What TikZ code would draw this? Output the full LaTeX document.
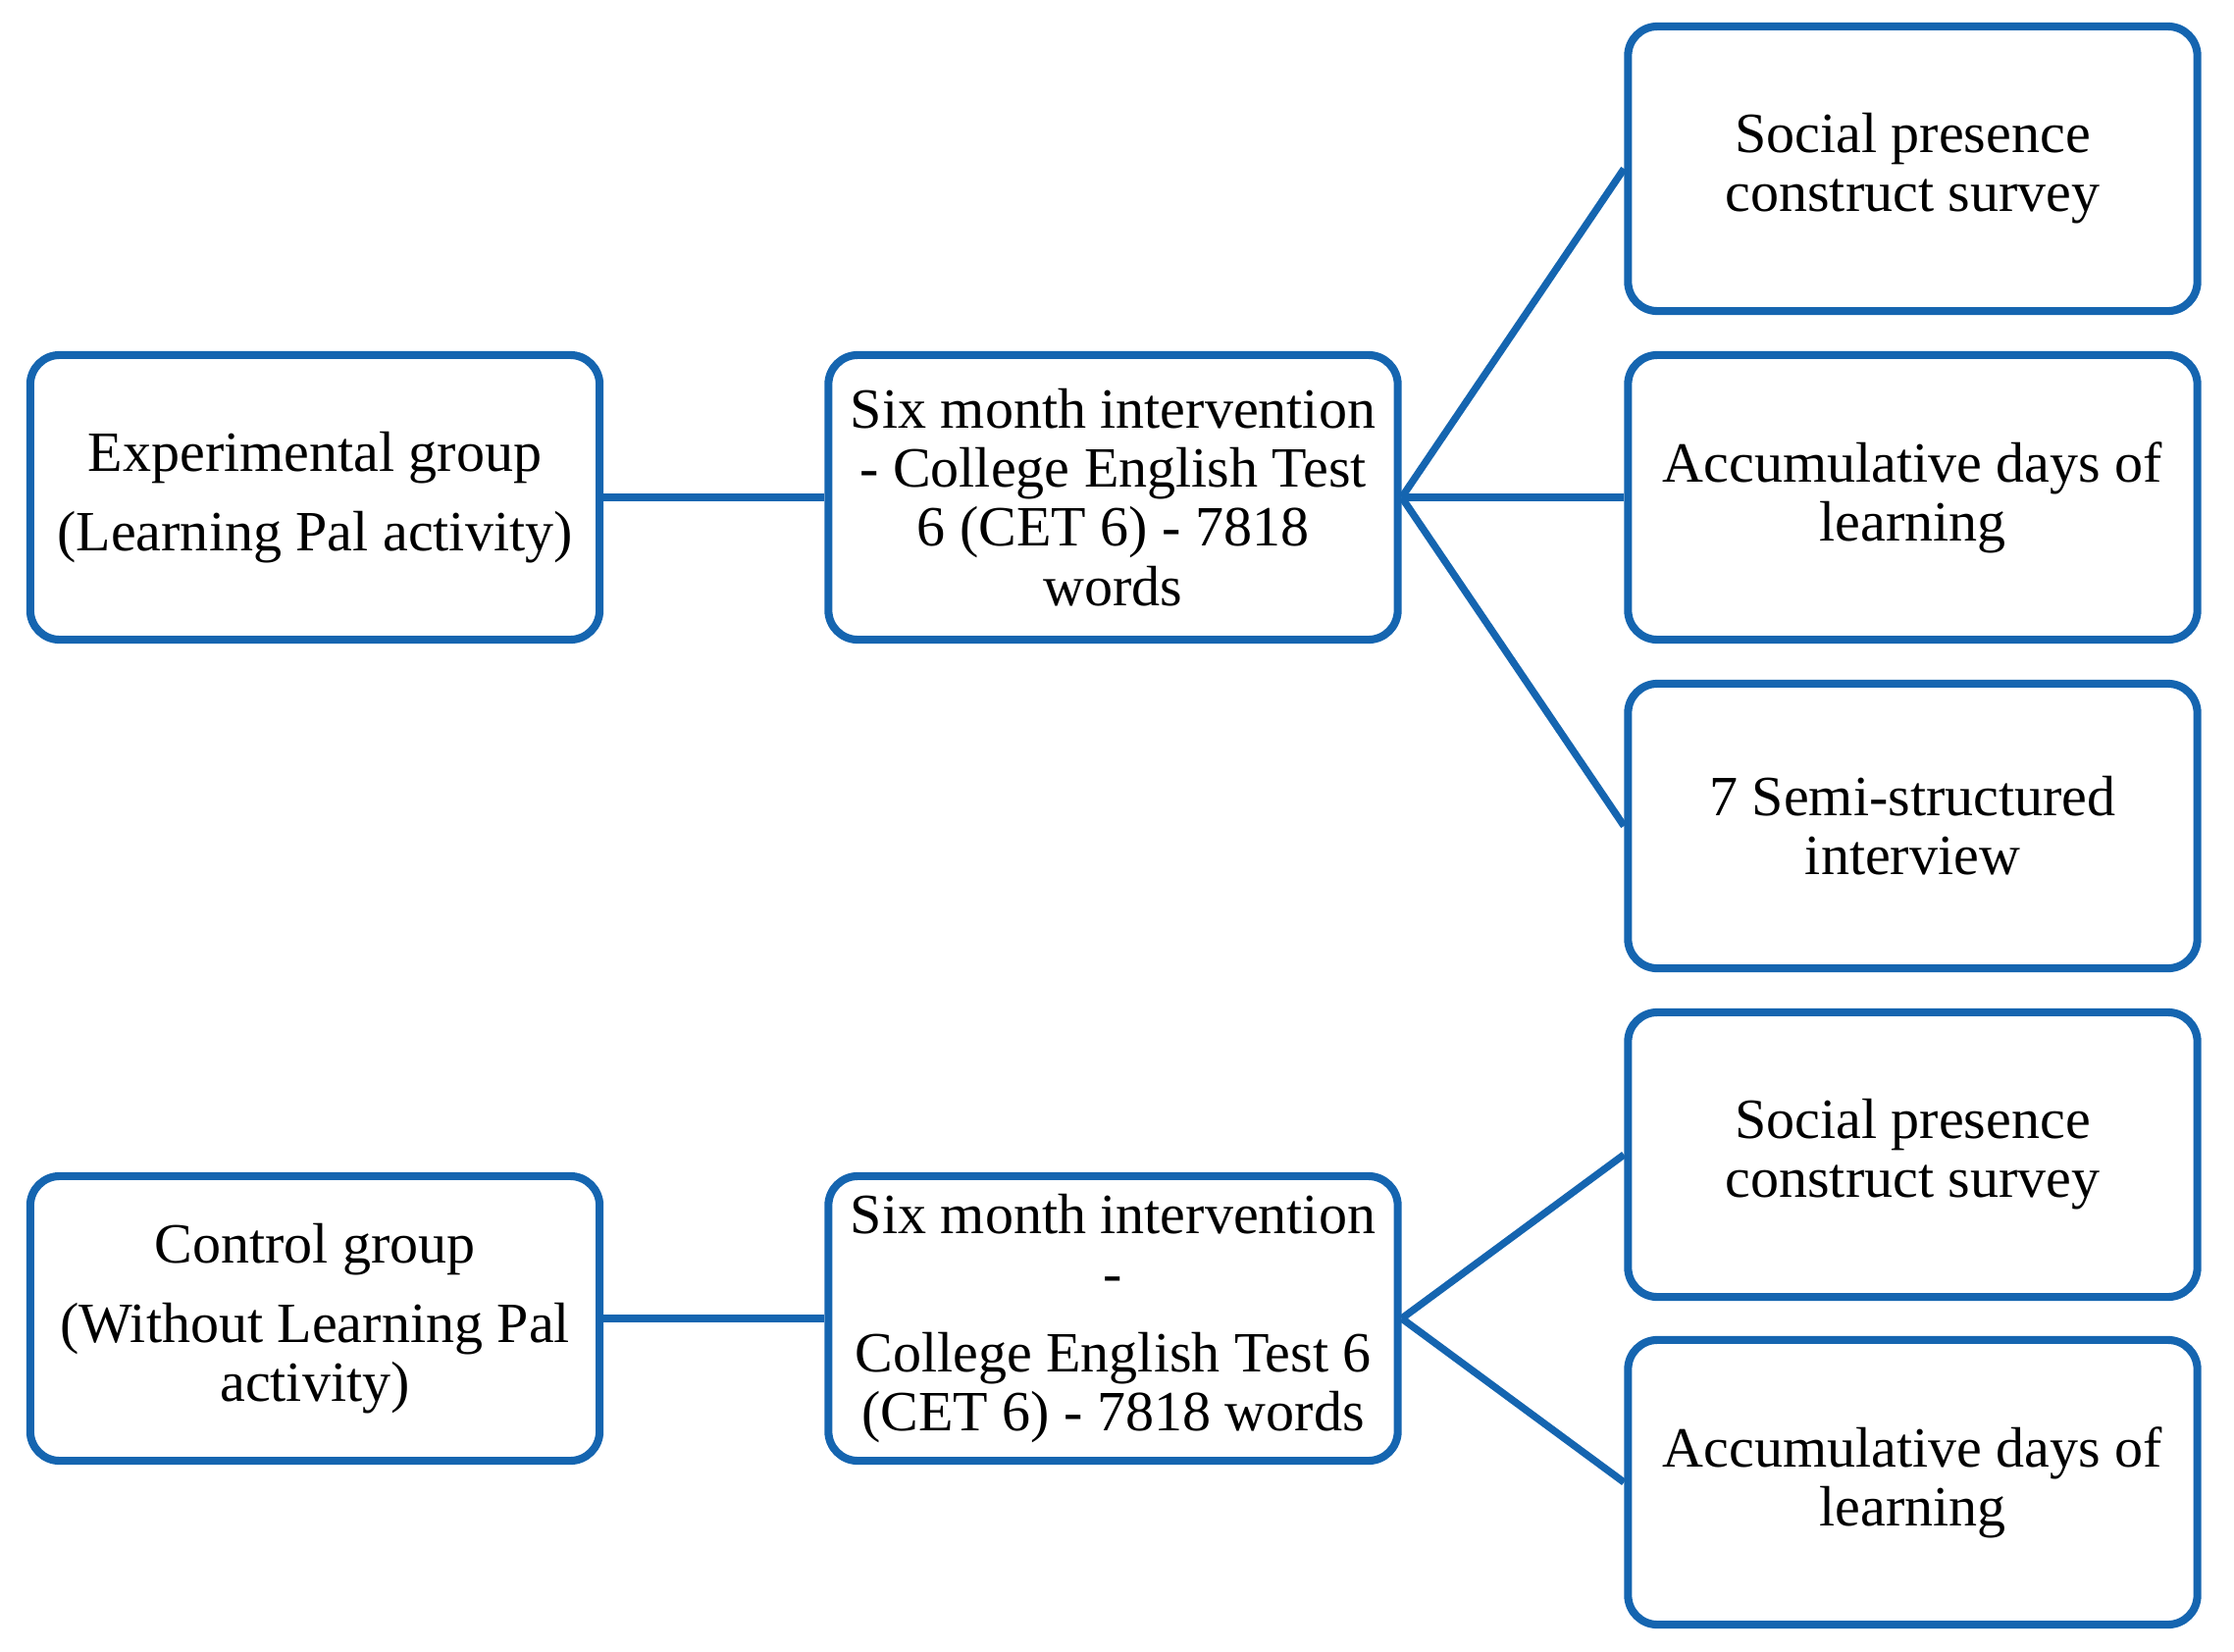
\documentclass[tikz,border=0pt]{standalone}
\usepackage{fontspec}
\setmainfont{Liberation Serif}
\definecolor{boxblue}{RGB}{21,101,176}
\begin{document}
\begin{tikzpicture}[x=0.01cm,y=-0.01cm,
  box/.style={draw=boxblue, line width=2.3pt, rounded corners=0.3cm, fill=white,
    minimum width=5.80cm, minimum height=2.90cm, inner sep=0pt, align=center,
    font=\fontsize{16.5pt}{17.1pt}\selectfont},
  link/.style={draw=boxblue, line width=2.1pt}]
\useasboundingbox (0,0) rectangle (2277,1684);
% upper group
\node[box] (exp) at (321,507) {Experimental group\\[5.8pt](Learning Pal activity)};
\node[box] (mid1) at (1134.5,507) {Six month intervention\\- College English Test\\6 (CET 6) - 7818\\words};
\node[box] (r1) at (1949.5,172) {Social presence\\construct survey};
\node[box] (r2) at (1949.5,507) {Accumulative days of\\learning};
\node[box] (r3) at (1949.5,842) {7 Semi-structured\\interview};
% lower group
\node[box] (ctl) at (321,1344) {Control group\\[5.8pt](Without Learning Pal\\activity)};
\node[box] (mid2) at (1134.5,1344) {Six month intervention\\-\\[5.8pt]College English Test 6\\(CET 6) - 7818 words};
\node[box] (r4) at (1949.5,1177) {Social presence\\construct survey};
\node[box] (r5) at (1949.5,1511) {Accumulative days of\\learning};
% connectors
\draw[link] (exp.east) -- (mid1.west);
\draw[link] (mid1.east) -- (r1.west);
\draw[link] (mid1.east) -- (r2.west);
\draw[link] (mid1.east) -- (r3.west);
\draw[link] (ctl.east) -- (mid2.west);
\draw[link] (mid2.east) -- (r4.west);
\draw[link] (mid2.east) -- (r5.west);
\end{tikzpicture}
\end{document}
